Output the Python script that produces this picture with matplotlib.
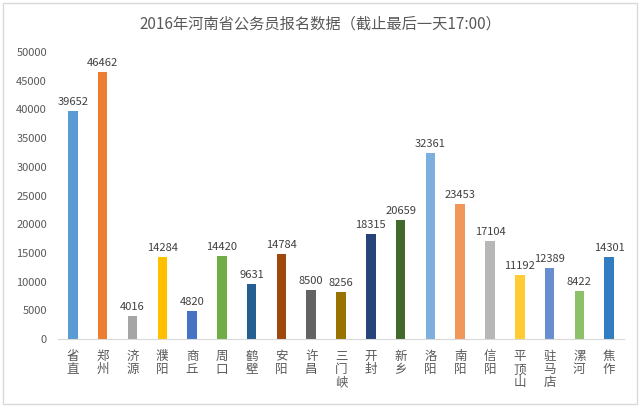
import matplotlib.pyplot as plt
from matplotlib.patches import Rectangle

plt.rcParams['font.family'] = ['Noto Sans CJK SC', 'DejaVu Sans']

# --- DATA ---
cities = ['省直', '郑州', '济源', '濮阳', '商丘', '周口', '鹤壁', '安阳', '许昌', '三门峡',
          '开封', '新乡', '洛阳', '南阳', '信阳', '平顶山', '驻马店', '漯河', '焦作']
counts = [39652, 46462, 4016, 14284, 4820, 14420, 9631, 14784, 8500, 8256,
          18315, 20659, 32361, 23453, 17104, 11192, 12389, 8422, 14301]
yticks = [0, 5000, 10000, 15000, 20000, 25000, 30000, 35000, 40000, 45000, 50000]

# Excel-style palette, one colour per bar
colors = ['#5B9BD5', '#ED7D31', '#A5A5A5', '#FFC000', '#4472C4', '#70AD47',
          '#255E91', '#9E480E', '#636363', '#997300', '#264478', '#43682B',
          '#7CAFDD', '#F1975A', '#B7B7B7', '#FFCD33', '#698ED0', '#8CC168', '#327DC2']

fig = plt.figure(figsize=(6.41, 4.07), dpi=100)
ax = fig.add_axes([0.0905, 0.167, 0.883, 0.705])

x = list(range(len(cities)))
ax.bar(x, counts, width=0.32, color=colors)

# value labels above each bar
for xi, v in zip(x, counts):
    ax.text(xi, v + 700, str(v), ha='center', va='bottom', fontsize=8, color='#404040')

ax.set_xlim(-0.5, len(cities) - 0.5)
ax.set_ylim(0, 50000)
ax.set_yticks(yticks)
ax.set_yticklabels([str(t) for t in yticks])
ax.set_xticks(x)
ax.set_xticklabels(['\n'.join(c) for c in cities], linespacing=1.0)

ax.tick_params(axis='y', length=0, labelsize=8, colors='#595959', pad=8)
ax.tick_params(axis='x', length=0, labelsize=9, colors='#595959', pad=8)
for s in ['top', 'right', 'left']:
    ax.spines[s].set_visible(False)
ax.spines['bottom'].set_color('#D9D9D9')

fig.text(0.5, 0.94, '2016年河南省公务员报名数据（截止最后一天17:00）',
         ha='center', va='center', fontsize=11, color='#595959')

# chart border
fig.patches.append(Rectangle((0.004, 0.008), 0.99, 0.985, transform=fig.transFigure,
                             fill=False, edgecolor='#D9D9D9', linewidth=1))

plt.savefig('out.png', dpi=100)
